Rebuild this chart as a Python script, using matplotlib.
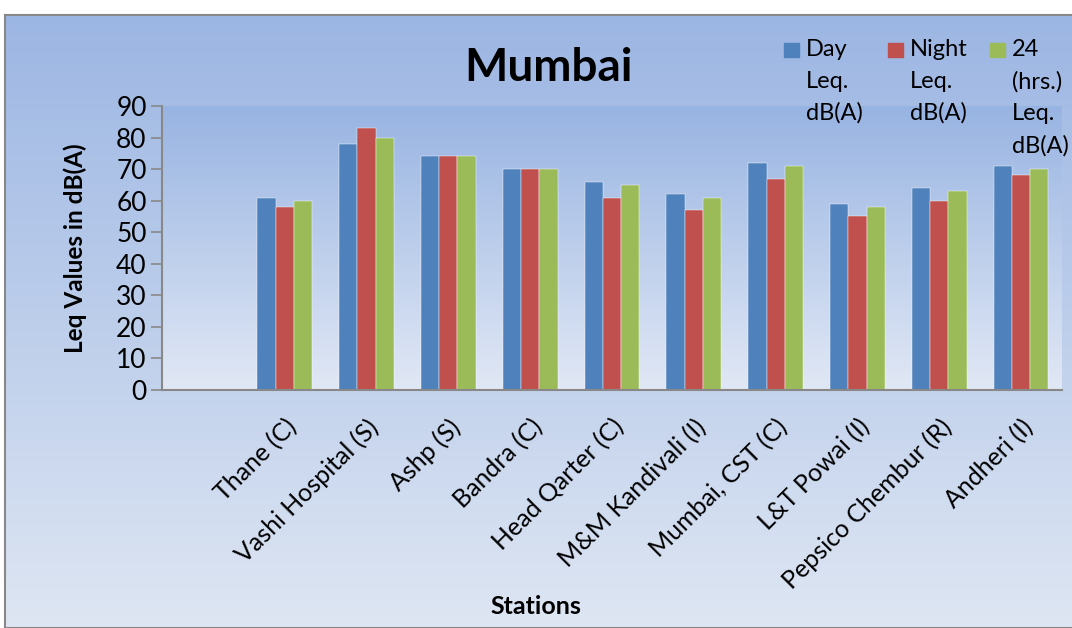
import matplotlib.pyplot as plt
import numpy as np
from matplotlib.colors import LinearSegmentedColormap
from matplotlib.patches import Rectangle

plt.rcParams['font.family'] = ['Lato', 'DejaVu Sans']

# Datos (la primera categoría está vacía en el original)
stations = ['', 'Thane (C)', 'Vashi Hospital (S)', 'Ashp (S)', 'Bandra (C)',
            'Head Qarter (C)', 'M&M Kandivali (I)', 'Mumbai, CST (C)',
            'L&T Powai (I)', 'Pepsico Chembur (R)', 'Andheri (I)']
day = [np.nan, 61, 78, 74, 70, 66, 62, 72, 59, 64, 71]
night = [np.nan, 58, 83, 74, 70, 61, 57, 67, 55, 60, 68]
full = [np.nan, 60, 80, 74, 70, 65, 61, 71, 58, 63, 70]
series_labels = ['Day\nLeq.\ndB(A)', 'Night\nLeq.\ndB(A)', '24\n(hrs.)\nLeq.\ndB(A)']
colors = ['#4F81BD', '#C0504D', '#9BBB59']

W, H = 1072, 628
fig = plt.figure(figsize=(W / 100, H / 100), dpi=100)

# Fondo con degradado
bg = fig.add_axes([5 / W, 0, 1, 613 / H], zorder=-2)
cmap_bg = LinearSegmentedColormap.from_list('bg', ['#9CB6E3', '#DEE6F3'])
bg.imshow(np.linspace(0, 1, 256).reshape(-1, 1), aspect='auto', cmap=cmap_bg,
          extent=[0, 1, 0, 1], origin='upper')
bg.set_xticks([])
bg.set_yticks([])
for s in bg.spines.values():
    s.set_color('#888888')
    s.set_linewidth(1.5)

ax = fig.add_axes([162 / W, 1 - 390 / H, 900 / W, 284 / H])
cmap_ax = LinearSegmentedColormap.from_list('ax', ['#98B4E2', '#E1E8F5'])
ax.imshow(np.linspace(0, 1, 256).reshape(-1, 1), aspect='auto', cmap=cmap_ax,
          extent=[0, 1, 0, 1], origin='upper', transform=ax.transAxes, zorder=0)

x = np.arange(len(stations))
w = 0.223
for i, (vals, c) in enumerate(zip([day, night, full], colors)):
    ax.bar(x + (i - 1) * w, vals, width=w, color=c, zorder=2,
           edgecolor='white', linewidth=0.3)

ax.set_xlim(-0.5, len(stations) - 0.5)
ax.set_ylim(0, 90)
ax.set_yticks(range(0, 91, 10))
ax.tick_params(axis='y', labelsize=19, length=8, color='#888888', width=1.2, pad=3)
ax.set_xticks(x)
ax.set_xticklabels(stations, rotation=45, ha='right', va='top',
                   rotation_mode='anchor', fontsize=18)
ax.tick_params(axis='x', length=0, pad=18)
for side in ['top', 'right']:
    ax.spines[side].set_visible(False)
for side in ['left', 'bottom']:
    ax.spines[side].set_color('#888888')
    ax.spines[side].set_linewidth(1.5)

ax.set_ylabel('Leq Values in dB(A)', fontsize=17.5, fontweight='bold')
ax.yaxis.set_label_coords(-0.083, 0.5)
fig.text(536 / W, 1 - 606 / H, 'Stations', fontsize=18, fontweight='bold',
         ha='center', va='center')
fig.text(548 / W, 1 - 68 / H, 'Mumbai', fontsize=33, fontweight='bold',
         ha='center', va='center')

# Leyenda en tres columnas, texto partido en líneas
for px, lab, c in zip([784, 888, 990], series_labels, colors):
    fig.patches.append(Rectangle((px / W, 1 - 57 / H), 15 / W, 14 / H,
                                 transform=fig.transFigure, color=c))
    fig.text((px + 22) / W, 1 - 39 / H, lab, fontsize=17, ha='left', va='top',
             linespacing=1.62)

plt.savefig('out.png', dpi=100)
